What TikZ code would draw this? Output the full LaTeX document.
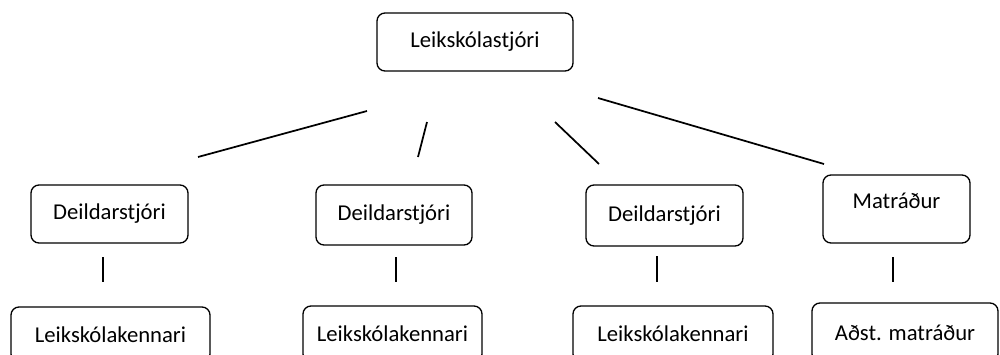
\documentclass[tikz,border=0pt]{standalone}
\usepackage{fontspec}
\setmainfont{Carlito}
\begin{document}
\begin{tikzpicture}[x=0.75pt,y=-0.75pt,
  box/.style={draw=black,line width=1pt,rounded corners=6pt,inner sep=0pt,outer sep=0pt,
    font=\fontsize{17}{20}\selectfont,align=center},
  conn/.style={draw=black,line width=1.3pt}]
\useasboundingbox (0,0) rectangle (1000,354);
\node[box,minimum width=196*0.75pt,minimum height=58*0.75pt] (top) at (475,42) {Leikskólastjóri};
\node[box,minimum width=157*0.75pt,minimum height=58*0.75pt] (d1) at (109.5,214) {Deildarstjóri};
\node[box,minimum width=156*0.75pt,minimum height=60*0.75pt] (d2) at (394,215) {Deildarstjóri};
\node[box,minimum width=157*0.75pt,minimum height=61*0.75pt] (d3) at (664.5,215.5) {Deildarstjóri};
\node[box,minimum width=147*0.75pt,minimum height=68*0.75pt,text depth=12pt] (m) at (896.5,209) {Matráður};
\node[box,minimum width=199*0.75pt,minimum height=55*0.75pt] (l1) at (110.5,334.5) {Leikskólakennari};
\node[box,minimum width=179*0.75pt,minimum height=56*0.75pt] (l2) at (392.5,334) {Leikskólakennari};
\node[box,minimum width=200*0.75pt,minimum height=56*0.75pt] (l3) at (673,334) {Leikskólakennari};
\node[box,minimum width=186*0.75pt,minimum height=59*0.75pt] (a) at (905,332.5) {Aðst. matráður};
% free-floating connectors
\coordinate (t1a) at (367,111); \coordinate (t1b) at (198,157);
\coordinate (t2a) at (427,122); \coordinate (t2b) at (418,157);
\coordinate (t3a) at (555,122); \coordinate (t3b) at (599,164);
\coordinate (t4a) at (598,98);  \coordinate (t4b) at (824,164);
\draw[conn] (t1a) -- (t1b);
\draw[conn] (t2a) -- (t2b);
\draw[conn] (t3a) -- (t3b);
\draw[conn] (t4a) -- (t4b);
\coordinate (v1a) at (103,257); \coordinate (v1b) at (103,282);
\coordinate (v2a) at (396,257); \coordinate (v2b) at (396,282);
\coordinate (v3a) at (657,256); \coordinate (v3b) at (657,282);
\coordinate (v4a) at (893,257); \coordinate (v4b) at (893,282);
\draw[conn] (v1a) -- (v1b);
\draw[conn] (v2a) -- (v2b);
\draw[conn] (v3a) -- (v3b);
\draw[conn] (v4a) -- (v4b);
\end{tikzpicture}
\end{document}
